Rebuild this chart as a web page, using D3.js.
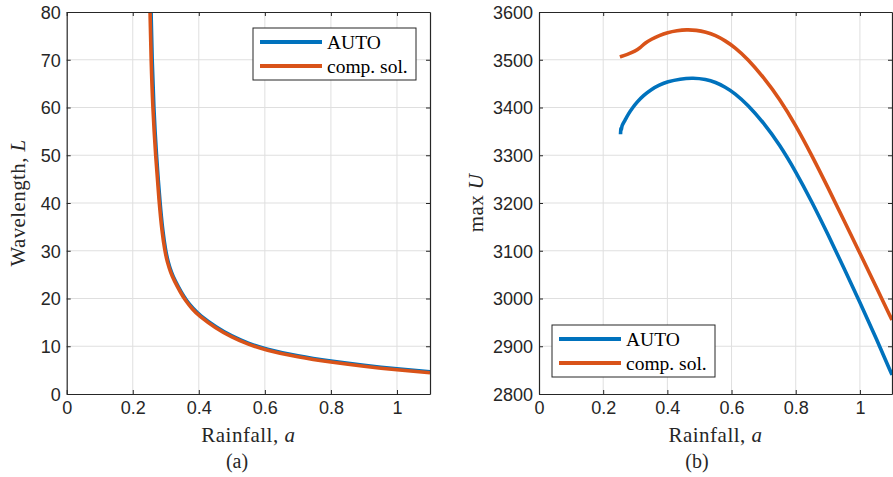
<!DOCTYPE html>
<html>
<head>
<meta charset="utf-8">
<script src="https://cdn.jsdelivr.net/npm/d3@7"></script>
<style>
  html, body { margin: 0; padding: 0; background: #fff; }
  svg { display: block; }
</style>
</head>
<body>
<svg id="chart" width="893" height="477"></svg>
<script>
// ---------- data ----------
// Panel (a): wavelength L vs rainfall a
const autoA_a = [0.2555, 0.2585, 0.2635, 0.2715, 0.2825, 0.2910, 0.2995, 0.3075, 0.3175, 0.3275, 0.3475, 0.3625, 0.3825, 0.4025, 0.4525, 0.50, 0.55, 0.60, 0.70, 0.80, 0.90, 1.00, 1.10];
const autoA_L = [80, 70, 60, 50, 40, 34.0, 30.0, 27.5, 25.4, 23.8, 21.2, 19.6, 17.9, 16.5, 14.0, 12.1, 10.6, 9.45, 7.9, 6.85, 6.0, 5.25, 4.65];
const compA_a = [0.2524, 0.2555, 0.2605, 0.2690, 0.2800, 0.2885, 0.2970, 0.3050, 0.3150, 0.3250, 0.3450, 0.3600, 0.3800, 0.4000, 0.4500, 0.50, 0.55, 0.60, 0.70, 0.80, 0.90, 1.00, 1.10];
const compA_L = [80, 70, 60, 50, 40, 34.0, 30.0, 27.5, 25.4, 23.8, 21.2, 19.55, 17.8, 16.4, 13.85, 11.9, 10.4, 9.25, 7.7, 6.65, 5.8, 5.05, 4.45];

// Panel (b): max U vs rainfall a
const autoB_a = [0.254, 0.2552, 0.2565, 0.258, 0.262, 0.27, 0.28, 0.29, 0.305, 0.325, 0.35, 0.375, 0.40, 0.44, 0.48, 0.52, 0.55, 0.58, 0.61, 0.65, 0.70, 0.75, 0.80, 0.85, 0.90, 0.95, 1.00, 1.05, 1.10];
const autoB_U = [3344, 3360, 3350, 3362, 3366, 3376, 3388, 3398, 3411, 3425, 3438, 3447, 3454, 3460, 3462, 3459, 3453, 3443, 3430, 3406, 3368, 3322, 3266, 3203, 3135, 3064, 2992, 2918, 2840];
const compB_a = [0.252, 0.275, 0.30, 0.315, 0.33, 0.35, 0.375, 0.40, 0.43, 0.46, 0.49, 0.52, 0.55, 0.58, 0.61, 0.65, 0.70, 0.75, 0.80, 0.85, 0.90, 0.95, 1.00, 1.05, 1.10];
const compB_U = [3506, 3511, 3518, 3525, 3535, 3543, 3551, 3557, 3561, 3563, 3562, 3558, 3551, 3540, 3526, 3502, 3463, 3418, 3363, 3300, 3233, 3164, 3095, 3025, 2955];

const xTicks = [0, 0.2, 0.4, 0.6, 0.8, 1];
const xTickLabels = ["0", "0.2", "0.4", "0.6", "0.8", "1"];
const yTicksA = [0, 10, 20, 30, 40, 50, 60, 70, 80];
const yTicksB = [2800, 2900, 3000, 3100, 3200, 3300, 3400, 3500, 3600];
const seriesNames = ["AUTO", "comp. sol."];
const colors = ["#0072BD", "#D95319"];

// ---------- drawing ----------
const svg = d3.select("#chart");
const AX = "#262626";
const GRID = "#dfdfdf";
const sans = "'Liberation Sans', Arial, Helvetica, sans-serif";
const serif = "'Liberation Serif', 'Times New Roman', serif";

function panel(opts) {
  const {x0, x1, y0, y1, yDomain, yTicks, series, yLabel, yLabelX, caption, captionX, legend, id} = opts;
  const x = d3.scaleLinear().domain([0, 1.1]).range([x0, x1]);
  const y = d3.scaleLinear().domain(yDomain).range([y1, y0]);
  const g = svg.append("g");

  svg.append("clipPath").attr("id", id).append("rect")
    .attr("x", x0).attr("y", y0).attr("width", x1 - x0).attr("height", y1 - y0);

  // grid
  g.append("g").selectAll("line").data(xTicks.filter(t => t > 0)).join("line")
    .attr("x1", d => x(d)).attr("x2", d => x(d)).attr("y1", y0).attr("y2", y1)
    .attr("stroke", GRID).attr("stroke-width", 1);
  g.append("g").selectAll("line").data(yTicks.slice(1, -1)).join("line")
    .attr("y1", d => y(d)).attr("y2", d => y(d)).attr("x1", x0).attr("x2", x1)
    .attr("stroke", GRID).attr("stroke-width", 1);

  // series
  const line = d3.line().x(d => x(d[0])).y(d => y(d[1])).curve(d3.curveBasis);
  const lg = g.append("g").attr("clip-path", `url(#${id})`);
  series.forEach((s, i) => {
    const pts = s.xs.map((v, k) => [v, s.ys[k]]);
    lg.append("path").datum(pts).attr("d", line)
      .attr("fill", "none").attr("stroke", colors[i]).attr("stroke-width", 3.6)
      .attr("stroke-linejoin", "round").attr("stroke-linecap", "butt");
  });

  // axes (box with inward ticks)
  const bottom = d3.axisBottom(x).tickValues(xTicks).tickSizeInner(-4).tickSizeOuter(0)
    .tickFormat((d, i) => xTickLabels[i]);
  const top = d3.axisTop(x).tickValues(xTicks).tickSizeInner(-4).tickSizeOuter(0).tickFormat("");
  const left = d3.axisLeft(y).tickValues(yTicks).tickSizeInner(-4).tickSizeOuter(0).tickFormat(d3.format("d"));
  const right = d3.axisRight(y).tickValues(yTicks).tickSizeInner(-4).tickSizeOuter(0).tickFormat("");

  const style = sel => {
    sel.selectAll("path.domain").attr("stroke", AX).attr("stroke-width", 1.2);
    sel.selectAll(".tick line").attr("stroke", AX).attr("stroke-width", 1);
    sel.selectAll("text").attr("fill", AX).style("font-family", sans).style("font-size", "18px");
  };
  const gb = g.append("g").attr("transform", `translate(0,${y1})`).call(bottom).call(style);
  gb.selectAll("text").attr("y", 7).attr("dy", "0.71em");
  g.append("g").attr("transform", `translate(0,${y0})`).call(top).call(style);
  const gl = g.append("g").attr("transform", `translate(${x0},0)`).call(left).call(style);
  gl.selectAll("text").attr("x", -6).attr("dy", "0.36em");
  g.append("g").attr("transform", `translate(${x1},0)`).call(right).call(style);

  // x label
  const xl = g.append("text").attr("x", (x0 + x1) / 2).attr("y", 442)
    .attr("text-anchor", "middle").attr("fill", AX)
    .style("font-family", serif).style("font-size", "21px").style("letter-spacing", "0.5px");
  xl.append("tspan").text("Rainfall, ");
  xl.append("tspan").style("font-style", "italic").text("a");

  // y label
  const yl = g.append("text").attr("transform", `translate(${yLabelX},${(y0 + y1) / 2}) rotate(-90)`)
    .attr("text-anchor", "middle").attr("fill", AX)
    .style("font-family", serif).style("font-size", "21px").style("letter-spacing", "0.4px");
  yLabel.forEach(p => {
    const t = yl.append("tspan").text(p.t);
    if (p.i) t.style("font-style", "italic");
  });

  // caption
  g.append("text").attr("x", captionX).attr("y", 468).attr("text-anchor", "middle")
    .attr("fill", AX).style("font-family", serif).style("font-size", "20px").text(caption);

  // legend
  const L = legend;
  const lgd = g.append("g");
  lgd.append("rect").attr("x", L.x).attr("y", L.y).attr("width", 163).attr("height", 52)
    .attr("fill", "#fff").attr("stroke", AX).attr("stroke-width", 1);
  seriesNames.forEach((name, i) => {
    const cy = L.y + 14 + i * 24;
    lgd.append("line").attr("x1", L.x + 7).attr("x2", L.x + 69).attr("y1", cy).attr("y2", cy)
      .attr("stroke", colors[i]).attr("stroke-width", 4);
    lgd.append("text").attr("x", L.x + 74).attr("y", cy + 6.5).attr("fill", "#000")
      .style("font-family", serif).style("font-size", "19.5px").style("white-space", "pre")
      .text(name);
  });
}

panel({
  id: "clipA", x0: 66.7, x1: 430, y0: 12, y1: 394,
  yDomain: [0, 80], yTicks: yTicksA,
  series: [{xs: autoA_a, ys: autoA_L}, {xs: compA_a, ys: compA_L}],
  yLabel: [{t: "Wavelength, "}, {t: "L", i: true}], yLabelX: 25,
  caption: "(a)", captionX: 237,
  legend: {x: 253, y: 28}
});

panel({
  id: "clipB", x0: 539, x1: 892, y0: 12, y1: 394,
  yDomain: [2800, 3600], yTicks: yTicksB,
  series: [{xs: autoB_a, ys: autoB_U}, {xs: compB_a, ys: compB_U}],
  yLabel: [{t: "max "}, {t: "U", i: true}], yLabelX: 483,
  caption: "(b)", captionX: 697,
  legend: {x: 552, y: 325}
});
</script>
</body>
</html>
